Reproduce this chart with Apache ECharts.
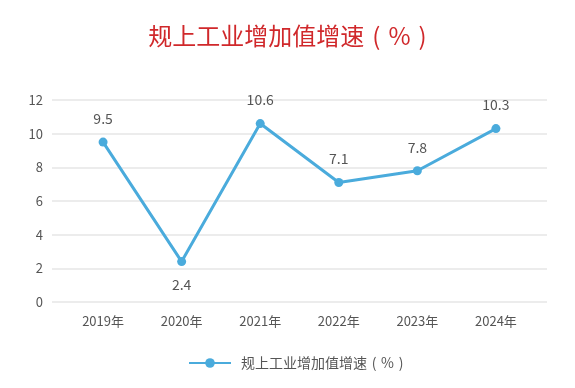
<!DOCTYPE html>
<html><head><meta charset="utf-8">
<script src="https://cdn.jsdelivr.net/npm/echarts@6/dist/echarts.min.js"></script>
<style>html,body{margin:0;padding:0;background:#fff}#c{width:575px;height:388px}</style>
</head><body><div id="c"></div>
<script>
const categories = ['2019年','2020年','2021年','2022年','2023年','2024年'];
const values = [9.5, 2.4, 10.6, 7.1, 7.8, 10.3];
const labelPos = ['top','bottom','top','top','top','top'];
const seriesName = '规上工业增加值增速\u2004(\u2004%\u2004)';
const titleText = '规上工业增加值增速\u2004(\u2004%\u2004)';

const font = '"Noto Sans CJK SC","Noto Sans",sans-serif';
const chart = echarts.init(document.getElementById('c'));
chart.setOption({
  animation:false,
  textStyle:{fontFamily:font},
  title:{text:titleText,left:'center',top:19,textStyle:{color:'#d0282b',fontSize:24,fontWeight:'normal',fontFamily:font}},
  legend:{bottom:18,left:188,padding:0,itemWidth:42,itemHeight:12,itemGap:10,
    textStyle:{color:'#555',fontSize:14,fontFamily:font,padding:[0,0,0,5]},data:[seriesName]},
  grid:{left:52,right:28,top:100,bottom:86,containLabel:false},
  xAxis:{type:'value',min:-0.65,max:5.65,
    axisLine:{show:false},axisTick:{show:false},splitLine:{show:false},
    axisLabel:{customValues:categories.map((c,i)=>i),formatter:v=>categories[Math.round(v)],
      color:'#555',fontSize:13,margin:13}},
  yAxis:{type:'value',min:0,max:12,interval:2,
    axisLine:{show:false},axisTick:{show:false},
    axisLabel:{color:'#555',fontSize:13,margin:9},
    splitLine:{lineStyle:{color:'#e6e6e6',width:1.5}}},
  series:[{name:seriesName,type:'line',
    data:values.map((v,i)=>({value:[i,v],label:{position:labelPos[i]}})),
    symbol:'circle',symbolSize:9,
    lineStyle:{color:'#4aabdc',width:3},
    itemStyle:{color:'#4aabdc'},
    label:{show:true,color:'#555',fontSize:14,distance:12,formatter:p=>p.value[1].toFixed(1)}}]
});
</script></body></html>
